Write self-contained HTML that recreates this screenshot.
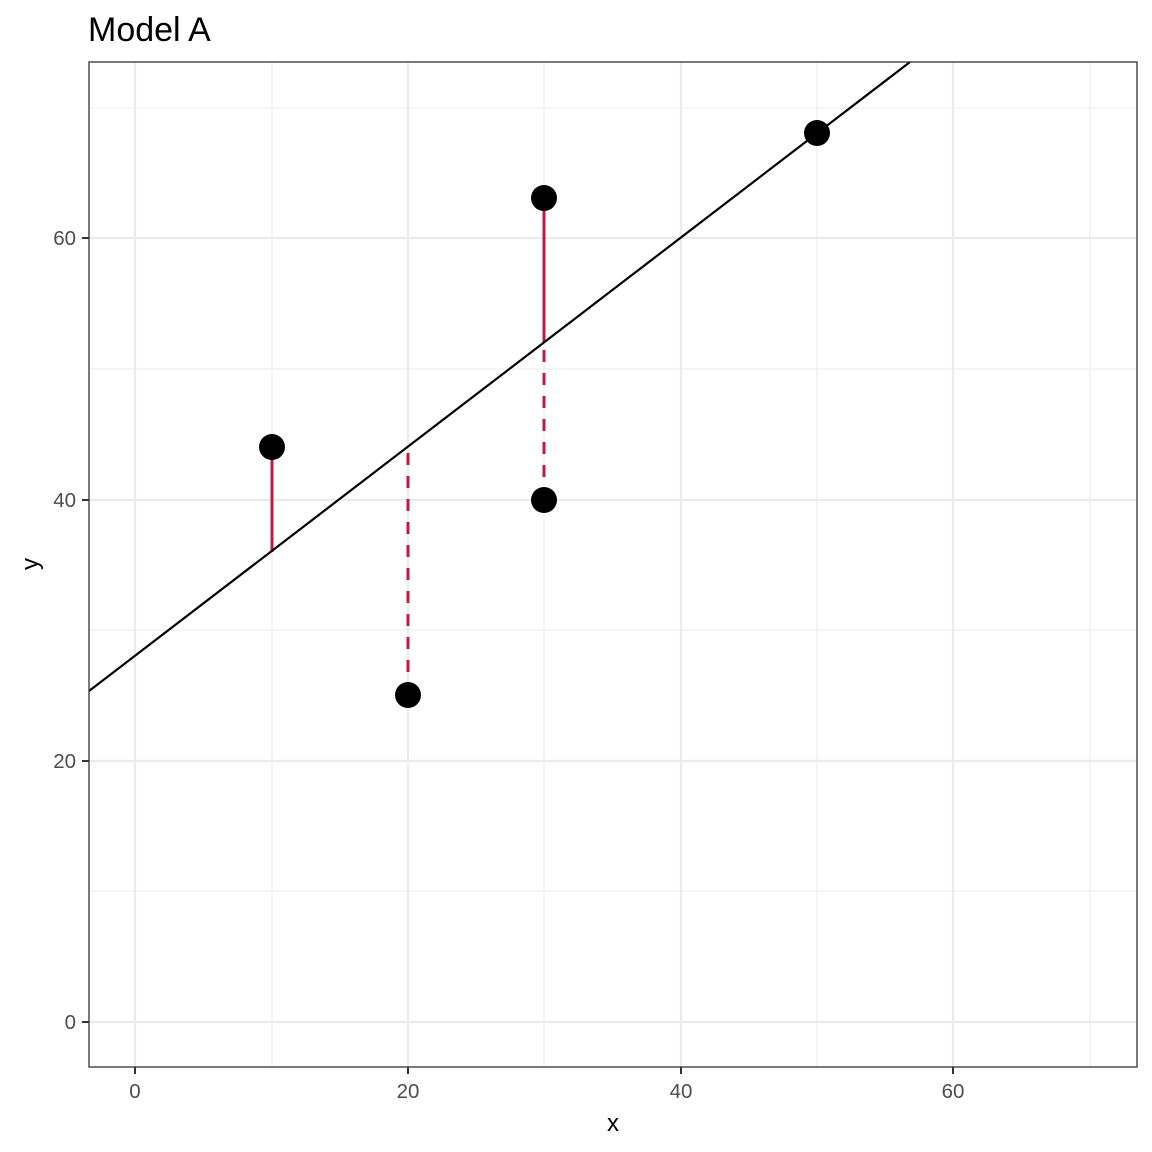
<!DOCTYPE html>
<html><head><style>body{margin:0;background:#fff}svg{display:block}</style></head>
<body>
<svg width="1152" height="1152" xmlns="http://www.w3.org/2000/svg" font-family="Liberation Sans, sans-serif">
<rect width="1152" height="1152" fill="#fff"/>
<g stroke="#ebebeb" stroke-width="1.1">
<line x1="89" x2="1137" y1="891" y2="891"/><line x1="89" x2="1137" y1="630" y2="630"/><line x1="89" x2="1137" y1="369" y2="369"/><line x1="89" x2="1137" y1="108" y2="108"/>
<line y1="62" y2="1067" x1="272" x2="272"/><line y1="62" y2="1067" x1="544" x2="544"/><line y1="62" y2="1067" x1="817" x2="817"/><line y1="62" y2="1067" x1="1090" x2="1090"/>
</g>
<g stroke="#ebebeb" stroke-width="2.2">
<line x1="89" x2="1137" y1="1022" y2="1022"/><line x1="89" x2="1137" y1="761" y2="761"/><line x1="89" x2="1137" y1="500" y2="500"/><line x1="89" x2="1137" y1="238" y2="238"/>
<line y1="62" y2="1067" x1="135" x2="135"/><line y1="62" y2="1067" x1="408" x2="408"/><line y1="62" y2="1067" x1="681" x2="681"/><line y1="62" y2="1067" x1="953" x2="953"/>
</g>
<g stroke="#bf1a42" stroke-width="3">
<line x1="272" x2="272" y1="447" y2="552"/>
<line x1="544" x2="544" y1="198" y2="343"/>
<line x1="408" x2="408" y1="695" y2="447" stroke-dasharray="12 11"/>
<line x1="544" x2="544" y1="500" y2="343" stroke-dasharray="12 11"/>
</g>
<line x1="89" y1="691" x2="910" y2="62" stroke="#000" stroke-width="2.2"/>
<g fill="#000">
<circle cx="272" cy="447" r="13"/><circle cx="408" cy="695" r="13"/><circle cx="544" cy="198" r="13"/><circle cx="544" cy="500" r="13"/><circle cx="817" cy="133" r="13"/>
</g>
<rect x="89" y="62" width="1048" height="1005" fill="none" stroke="#333" stroke-width="1.3"/>
<g stroke="#333" stroke-width="2">
<line x1="82" x2="89" y1="1022" y2="1022"/><line x1="82" x2="89" y1="761" y2="761"/><line x1="82" x2="89" y1="500" y2="500"/><line x1="82" x2="89" y1="238" y2="238"/>
<line y1="1067" y2="1074" x1="135" x2="135"/><line y1="1067" y2="1074" x1="408" x2="408"/><line y1="1067" y2="1074" x1="681" x2="681"/><line y1="1067" y2="1074" x1="953" x2="953"/>
</g>
<g fill="#4d4d4d" font-size="20.5" text-anchor="end">
<text x="76" y="1029">0</text><text x="76" y="768">20</text><text x="76" y="507">40</text><text x="76" y="245">60</text>
</g>
<g fill="#4d4d4d" font-size="20.5" text-anchor="middle">
<text x="135" y="1098">0</text><text x="408" y="1098">20</text><text x="681" y="1098">40</text><text x="953" y="1098">60</text>
</g>
<text x="613" y="1131" font-size="24" text-anchor="middle">x</text>
<text transform="translate(38,564) rotate(-90)" font-size="24" text-anchor="middle">y</text>
<text x="88" y="41" font-size="34">Model A</text>
</svg>
</body></html>
